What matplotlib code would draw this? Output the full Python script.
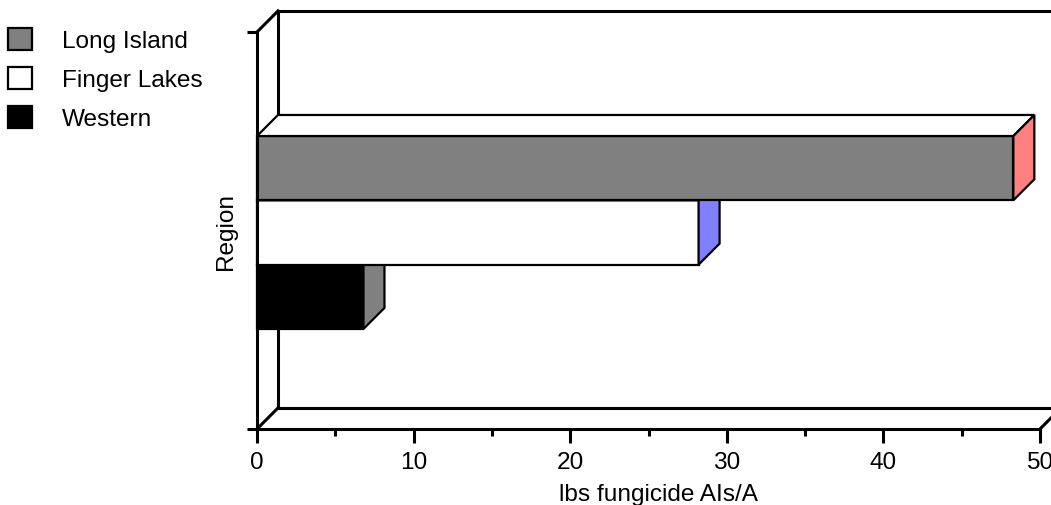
import numpy as np
import matplotlib.pyplot as plt
from matplotlib.patches import Polygon, Patch

# data
regions = ['Long Island', 'Finger Lakes', 'Western']
values = [48.3, 28.2, 6.8]
front_colors = ['#808080', '#ffffff', '#000000']
side_colors = ['#ff8080', '#8080ff', '#808080']

plt.rcParams['font.family'] = ['Liberation Sans', 'DejaVu Sans']
plt.rcParams['font.size'] = 17.6

fig = plt.figure(figsize=(10.51, 5.06), dpi=100)
ax = fig.add_axes([257/1051, 76/506, 783/1051, 397/506])
ax.set_xlim(0, 50)
ax.set_ylim(0, 1)

dx, dy = 1.34, 0.053      # 3d depth offset in data units
lw = 2.2
k = dict(color='black', lw=lw, clip_on=False, zorder=1, solid_capstyle='projecting')

# back wall / floor of the 3d frame
ax.plot([0, dx], [1, 1 + dy], **k)
ax.plot([dx, 50 + dx], [1 + dy, 1 + dy], **k)
ax.plot([dx, dx], [dy, 1 + dy], **k)
ax.plot([dx, 50 + dx], [dy, dy], **k)
ax.plot([0, dx], [0, dy], **k)
ax.plot([50, 50 + dx], [0, dy], **k)
ax.plot([50 + dx, 50 + dx], [dy, 1 + dy], **k)

# bars, lowest first so upper ones cover the hidden faces
bh = 0.162
ypos = 0.495 + np.array([1, 0, -1]) * bh
for n, i in enumerate([2, 1, 0]):
    z = 3 + n * 3
    v, yc = values[i], ypos[i]
    bot, top = yc - bh / 2, yc + bh / 2
    ax.barh(yc, v, height=bh, color=front_colors[i], edgecolor='black',
            lw=1.6, zorder=z, clip_on=False)
    ax.add_patch(Polygon([(0, top), (v, top), (v + dx, top + dy), (dx, top + dy)],
                         closed=True, fc='white', ec='black', lw=1.6,
                         zorder=z + 1, clip_on=False))
    ax.add_patch(Polygon([(v, bot), (v, top), (v + dx, top + dy), (v + dx, bot + dy)],
                         closed=True, fc=side_colors[i], ec='black', lw=1.6,
                         zorder=z + 1, clip_on=False))

for s in ['top', 'right']:
    ax.spines[s].set_visible(False)
for s in ['left', 'bottom']:
    ax.spines[s].set_linewidth(lw)
    ax.spines[s].set_zorder(20)

ax.set_xticks(np.arange(0, 51, 10))
ax.set_xticks(np.arange(5, 50, 10), minor=True)
ax.set_yticks([0, 1])
ax.set_yticklabels([])
ax.tick_params(axis='x', which='major', length=10, width=lw, pad=6)
ax.tick_params(axis='x', which='minor', length=5, width=lw)
ax.tick_params(axis='y', length=7, width=lw)

ax.set_xlabel('lbs fungicide AIs/A')
ax.xaxis.set_label_coords((50 + dx) / 2 / 50, -0.135)
ax.set_ylabel('Region')
ax.yaxis.set_label_coords(-0.026, 0.5)

handles = [Patch(fc=c, ec='black', lw=1.6) for c in front_colors]
fig.legend(handles, regions, loc='upper left', bbox_to_anchor=(8/1051, 1 - 29/506),
           frameon=False, handlelength=1.0, handleheight=1.0, handletextpad=1.2,
           labelspacing=0.6, borderaxespad=0, borderpad=0)

fig.savefig('out.png', dpi=100)
